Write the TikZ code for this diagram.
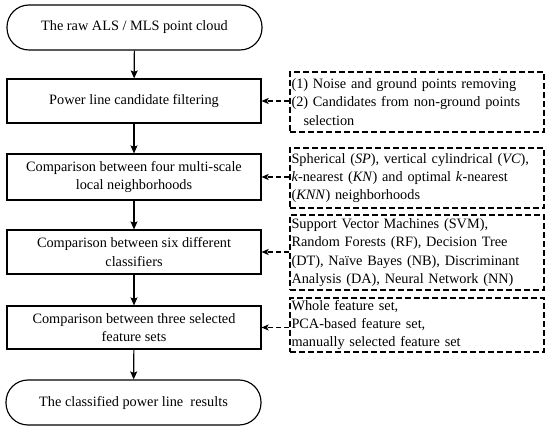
\documentclass[tikz,border=0pt]{standalone}
\usepackage{fontspec}
\setmainfont{Liberation Serif}
\usetikzlibrary{arrows.meta}
\begin{document}
\begin{tikzpicture}[x=1pt,y=-1pt,
  font=\fontsize{14.3}{18.3}\selectfont,
  line width=1.15pt,
  term/.style={draw,rectangle,rounded corners=22pt,minimum width=255pt,minimum height=45pt,align=center,inner sep=2pt},
  stepbox/.style={draw,rectangle,minimum width=254pt,align=center,inner sep=2pt},
  notebox/.style={draw,rectangle,dash pattern=on 6pt off 3pt,minimum width=254pt,text width=251pt,align=left,inner xsep=1.5pt,inner ysep=2pt},
  arr/.style={-{Stealth[length=8pt,width=7pt,inset=1.5pt]}},
  darr/.style={dash pattern=on 5pt off 3pt,-{Stealth[length=7pt,width=6pt,inset=1.5pt]}}
]
\useasboundingbox (0,0) rectangle (550,430);
\node[term] (t1) at (134.5,27.5) {The raw ALS / MLS point cloud};
\node[stepbox,minimum height=44pt] (b1) at (134,101) {Power line candidate filtering};
\node[stepbox,minimum height=46pt] (b2) at (134,177) {Comparison between four multi-scale\\local neighborhoods};
\node[stepbox,minimum height=44pt] (b3) at (134,252) {Comparison between six different\\classifiers};
\node[stepbox,minimum height=43pt] (b4) at (134,327.5) {Comparison between three selected\\feature sets};
\node[term] (t2) at (133.5,402.5) {The classified power line\ \ results};

\node[notebox,minimum height=60pt] (d1) at (417,102) {(1) Noise and ground points removing\\(2) Candidates from non-ground points\\\hspace*{12pt}selection};
\node[notebox,minimum height=60pt] (d2) at (417,178) {Spherical (\textit{SP}), vertical cylindrical (\textit{VC}),\\\textit{k}-nearest (\textit{KN}) and optimal \textit{k}-nearest\\(\textit{KNN}) neighborhoods};
\node[notebox,minimum height=75pt] (d3) at (417,252.5) {Support Vector Machines (SVM),\\Random Forests (RF), Decision Tree\\(DT), Naïve Bayes (NB), Discriminant\\Analysis (DA), Neural Network (NN)};
\node[notebox,minimum height=54pt] (d4) at (417,325) {Whole feature set,\\PCA-based feature set,\\manually selected feature set};

\draw[arr] (t1) -- (b1);
\draw[arr] (b1) -- (b2);
\draw[arr] (b2) -- (b3);
\draw[arr] (b3) -- (b4);
\draw[arr] (b4) -- (t2);

\draw[darr] (d1.west |- b1.east) -- (b1.east);
\draw[darr] (d2.west |- b2.east) -- (b2.east);
\draw[darr] (d3.west |- b3.east) -- (b3.east);
\draw[darr] (d4.west |- b4.east) -- (b4.east);
\end{tikzpicture}
\end{document}
